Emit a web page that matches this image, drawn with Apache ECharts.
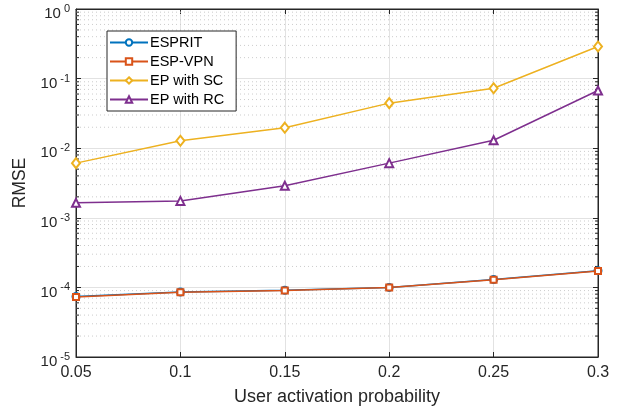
<!DOCTYPE html>
<html><head><meta charset="utf-8">
<script src="https://cdn.jsdelivr.net/npm/echarts@6/dist/echarts.min.js"></script>
<style>html,body{margin:0;padding:0;background:#fff}#c{width:623px;height:413px}</style>
</head><body><div id="c"></div>
<script>
var xValues = [0.05, 0.1, 0.15, 0.2, 0.25, 0.3];
var esprit = [7.4e-5, 8.6e-5, 9.1e-5, 1.0e-4, 1.3e-4, 1.74e-4];
var espVpn = [7.3e-5, 8.5e-5, 9.0e-5, 1.0e-4, 1.29e-4, 1.72e-4];
var epSC = [6.1e-3, 1.28e-2, 1.97e-2, 4.44e-2, 7.26e-2, 2.89e-1];
var epRC = [1.64e-3, 1.75e-3, 2.89e-3, 6.1e-3, 1.3e-2, 6.74e-2];
var seriesNames = ['ESPRIT', 'ESP-VPN', 'EP with SC', 'EP with RC'];
var yMin = 1e-5, yMax = 1;

var minorVals = [];
for (var k = -5; k < 0; k++) for (var m = 2; m <= 9; m++) minorVals.push(m * Math.pow(10, k));

var FONT = 'Liberation Sans';
var AX = '#262626';
var colors = ['#0072BD', '#D95319', '#EDB120', '#7E2F8E'];

function pairs(ys) { return xValues.map(function (x, i) { return [x, ys[i]]; }); }

var chart = echarts.init(document.getElementById('c'));
var yLabel = {
  fontFamily: FONT, color: AX, fontSize: 14, margin: 6, padding: [10, 0, 0, 0],
  formatter: function (v) { var e = Math.round(Math.log10(v)); return '{b|10}{s|' + (e === 0 ? '0' : String(e)) + '}'; },
  rich: { b: { fontSize: 15, fontFamily: FONT, color: AX }, s: { fontSize: 11, fontFamily: FONT, color: AX, verticalAlign: 'top', padding: [0, 0, 10, 3] } }
};
var option = {
  animation: false,
  textStyle: { fontFamily: FONT },
  grid: { left: 76, right: 25, top: 9, bottom: 56, show: true, borderColor: AX, borderWidth: 1, backgroundColor: 'transparent' },
  legend: {
    data: seriesNames, orient: 'vertical', left: 107, top: 31, itemWidth: 38, itemHeight: 8, itemGap: 4,
    padding: [4, 12, 4, 2], backgroundColor: '#fff', borderColor: AX, borderWidth: 1,
    textStyle: { fontFamily: FONT, fontSize: 14.5, color: '#000', padding: [0, 0, 0, -3] }
  },
  xAxis: [{
    type: 'value', min: 0.05, max: 0.3, interval: 0.05,
    name: 'User activation probability', nameLocation: 'middle', nameGap: 31,
    nameTextStyle: { fontFamily: FONT, fontSize: 18, color: AX },
    axisLine: { show: true, onZero: false, lineStyle: { color: AX } },
    axisTick: { show: true, inside: true, length: 5, lineStyle: { color: AX } },
    axisLabel: { fontFamily: FONT, fontSize: 16, color: AX, margin: 8, formatter: function (v) { return String(+v.toFixed(2)); } },
    splitLine: { show: true, lineStyle: { color: '#e2e2e2', width: 1 } }
  }, {
    type: 'value', min: 0.05, max: 0.3, interval: 0.05, position: 'top',
    axisLine: { show: true, lineStyle: { color: AX } },
    axisTick: { show: true, inside: true, length: 5, lineStyle: { color: AX } },
    axisLabel: { show: false }, splitLine: { show: false }
  }],
  yAxis: [{
    type: 'log', logBase: 10, min: yMin, max: yMax,
    name: 'RMSE', nameLocation: 'middle', nameGap: 42,
    nameTextStyle: { fontFamily: FONT, fontSize: 17.5, color: AX },
    axisLine: { show: true, lineStyle: { color: AX } },
    axisTick: { show: true, inside: true, length: 5, lineStyle: { color: AX } },
    axisLabel: yLabel,
    splitLine: { show: true, lineStyle: { color: '#e2e2e2', width: 1 } },
    minorTick: { show: false }
  }, {
    type: 'log', logBase: 10, min: yMin, max: yMax, position: 'right',
    axisLine: { show: true, lineStyle: { color: AX } },
    axisTick: { show: true, inside: true, length: 5, lineStyle: { color: AX } },
    axisLabel: { show: false }, splitLine: { show: false }
  }],
  series: [{
    type: 'custom', name: 'minor', silent: true, z: 1,
    data: minorVals.map(function (v) { return [0.05, v]; }),
    renderItem: function (params, api) {
      var cs = params.coordSys;
      var y = api.coord([0.05, api.value(1)])[1];
      return {
        type: 'group', children: [
          { type: 'line', shape: { x1: cs.x, y1: y, x2: cs.x + cs.width, y2: y }, style: { stroke: '#cccccc', lineWidth: 1, lineDash: [1, 3] } },
          { type: 'line', shape: { x1: cs.x, y1: y, x2: cs.x + 3, y2: y }, style: { stroke: AX, lineWidth: 1 } },
          { type: 'line', shape: { x1: cs.x + cs.width - 3, y1: y, x2: cs.x + cs.width, y2: y }, style: { stroke: AX, lineWidth: 1 } }
        ]
      };
    }
  }, {
    name: seriesNames[0], type: 'line', data: pairs(esprit), symbol: 'emptyCircle', symbolSize: 7,
    lineStyle: { width: 1.5, color: colors[0] }, itemStyle: { color: colors[0], borderWidth: 1.5 }, z: 3
  }, {
    name: seriesNames[1], type: 'line', data: pairs(espVpn), symbol: 'emptyRect', symbolSize: 6,
    lineStyle: { width: 1.5, color: colors[1] }, itemStyle: { color: colors[1], borderWidth: 1.5 }, z: 4
  }, {
    name: seriesNames[2], type: 'line', data: pairs(epSC), symbol: 'emptyDiamond', symbolSize: [8, 10],
    lineStyle: { width: 1.5, color: colors[2] }, itemStyle: { color: colors[2], borderWidth: 1.5 }, z: 3
  }, {
    name: seriesNames[3], type: 'line', data: pairs(epRC), symbol: 'emptyTriangle', symbolSize: 8,
    lineStyle: { width: 1.5, color: colors[3] }, itemStyle: { color: colors[3], borderWidth: 1.5 }, z: 3
  }]
};
chart.setOption(option);
</script></body></html>
